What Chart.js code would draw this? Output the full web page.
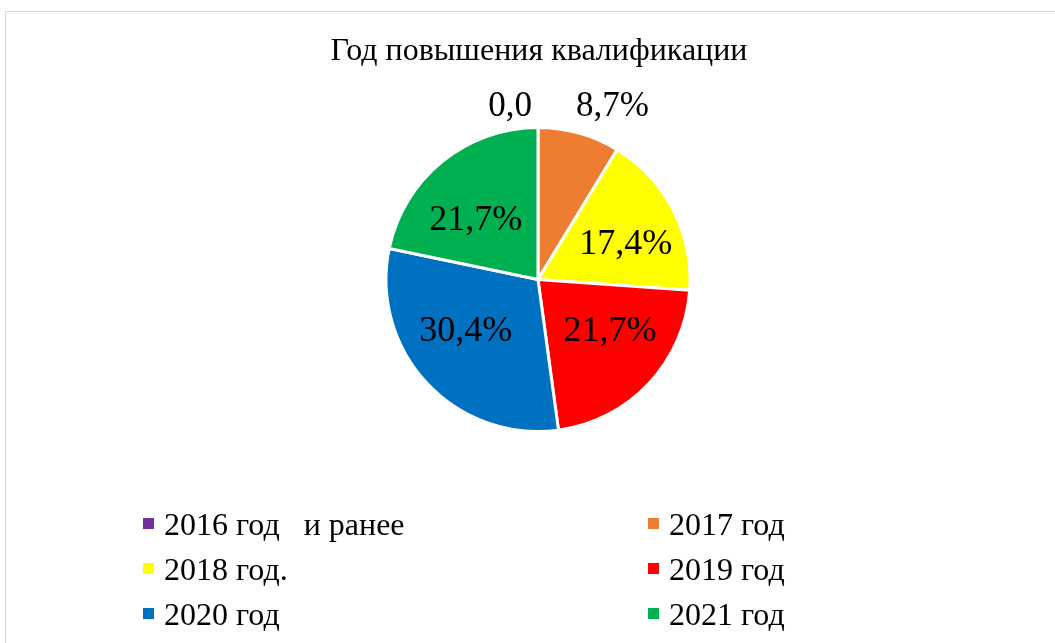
<!DOCTYPE html>
<html><head><meta charset="utf-8">
<script src="https://cdn.jsdelivr.net/npm/chart.js@4/dist/chart.umd.min.js"></script>
<style>
html,body{margin:0;padding:0;background:#fff;}
#wrap{position:absolute;left:0;top:0;width:1055px;height:643px;}
#frame{position:absolute;left:5px;top:11px;width:1060px;height:640px;border:1px solid #d9d9d9;box-sizing:border-box;}
canvas{position:absolute;left:0;top:0;}
</style></head>
<body><div id="wrap"><div id="frame"></div><canvas id="c" width="1055" height="643"></canvas></div>
<script>
const title = 'Год повышения квалификации';
const categories = ['2016 год   и ранее','2017 год','2018 год.','2019 год','2020 год','2021 год'];
const shares = [0.0, 8.7, 17.4, 21.7, 30.4, 21.7];
const valueLabels = ['0,0','8,7%','17,4%','21,7%','30,4%','21,7%'];
const colors = ['#7030A0','#ED7D31','#FFFF00','#FF0000','#0070C0','#00B050'];
const FONT = '"Liberation Serif","Times New Roman",serif';

const overlay = {
  id:'overlay',
  afterDraw(chart){
    const ctx = chart.ctx;
    ctx.save();
    ctx.fillStyle='#000';
    // title
    ctx.font = '32px '+FONT;
    ctx.textAlign='center'; ctx.textBaseline='middle';
    ctx.fillText(title, 539, 52);
    // data labels
    const meta = chart.getDatasetMeta(0);
    meta.data.forEach((arc,i)=>{
      const p = arc.getProps(['x','y','startAngle','endAngle','outerRadius'],true);
      const mid = (p.startAngle+p.endAngle)/2;
      const share = shares[i];
      if (share < 10) {
        ctx.font = '35px '+FONT;
        const ax = p.x + Math.cos(mid)*p.outerRadius;
        const by = p.y - p.outerRadius - 12;
        ctx.textBaseline='alphabetic';
        if (share === 0) { ctx.textAlign='right'; ctx.fillText(valueLabels[i], ax-6, by); }
        else { ctx.textAlign='left'; ctx.fillText(valueLabels[i], ax-3, by); }
      } else {
        ctx.font = '36px '+FONT;
        const dx = p.outerRadius*0.65, dy = p.outerRadius*0.5;
        ctx.textAlign='center'; ctx.textBaseline='middle';
        ctx.fillText(valueLabels[i], p.x+Math.cos(mid)*dx, p.y+Math.sin(mid)*dy);
      }
    });
    // legend (two columns)
    ctx.font = '32px '+FONT;
    ctx.textAlign='left'; ctx.textBaseline='alphabetic';
    categories.forEach((c,i)=>{
      const col = i%2, row = Math.floor(i/2);
      const x = col===0 ? 143 : 648;
      const y = 524 + row*45;
      ctx.fillStyle = colors[i];
      ctx.fillRect(x, y-6, 11, 11);
      ctx.fillStyle = '#000';
      ctx.fillText(c, x+21, y+11);
    });
    ctx.restore();
  }
};

new Chart(document.getElementById('c'), {
  type:'pie',
  data:{ labels: categories, datasets:[{ data: shares, backgroundColor: colors, borderColor:'#fff', borderWidth:3 }] },
  options:{
    responsive:false, animation:false,
    layout:{ padding:{ top:126, bottom:210, left:21, right:0 } },
    plugins:{ legend:{display:false}, title:{display:false}, tooltip:{enabled:false} }
  },
  plugins:[overlay]
});
</script></body></html>
